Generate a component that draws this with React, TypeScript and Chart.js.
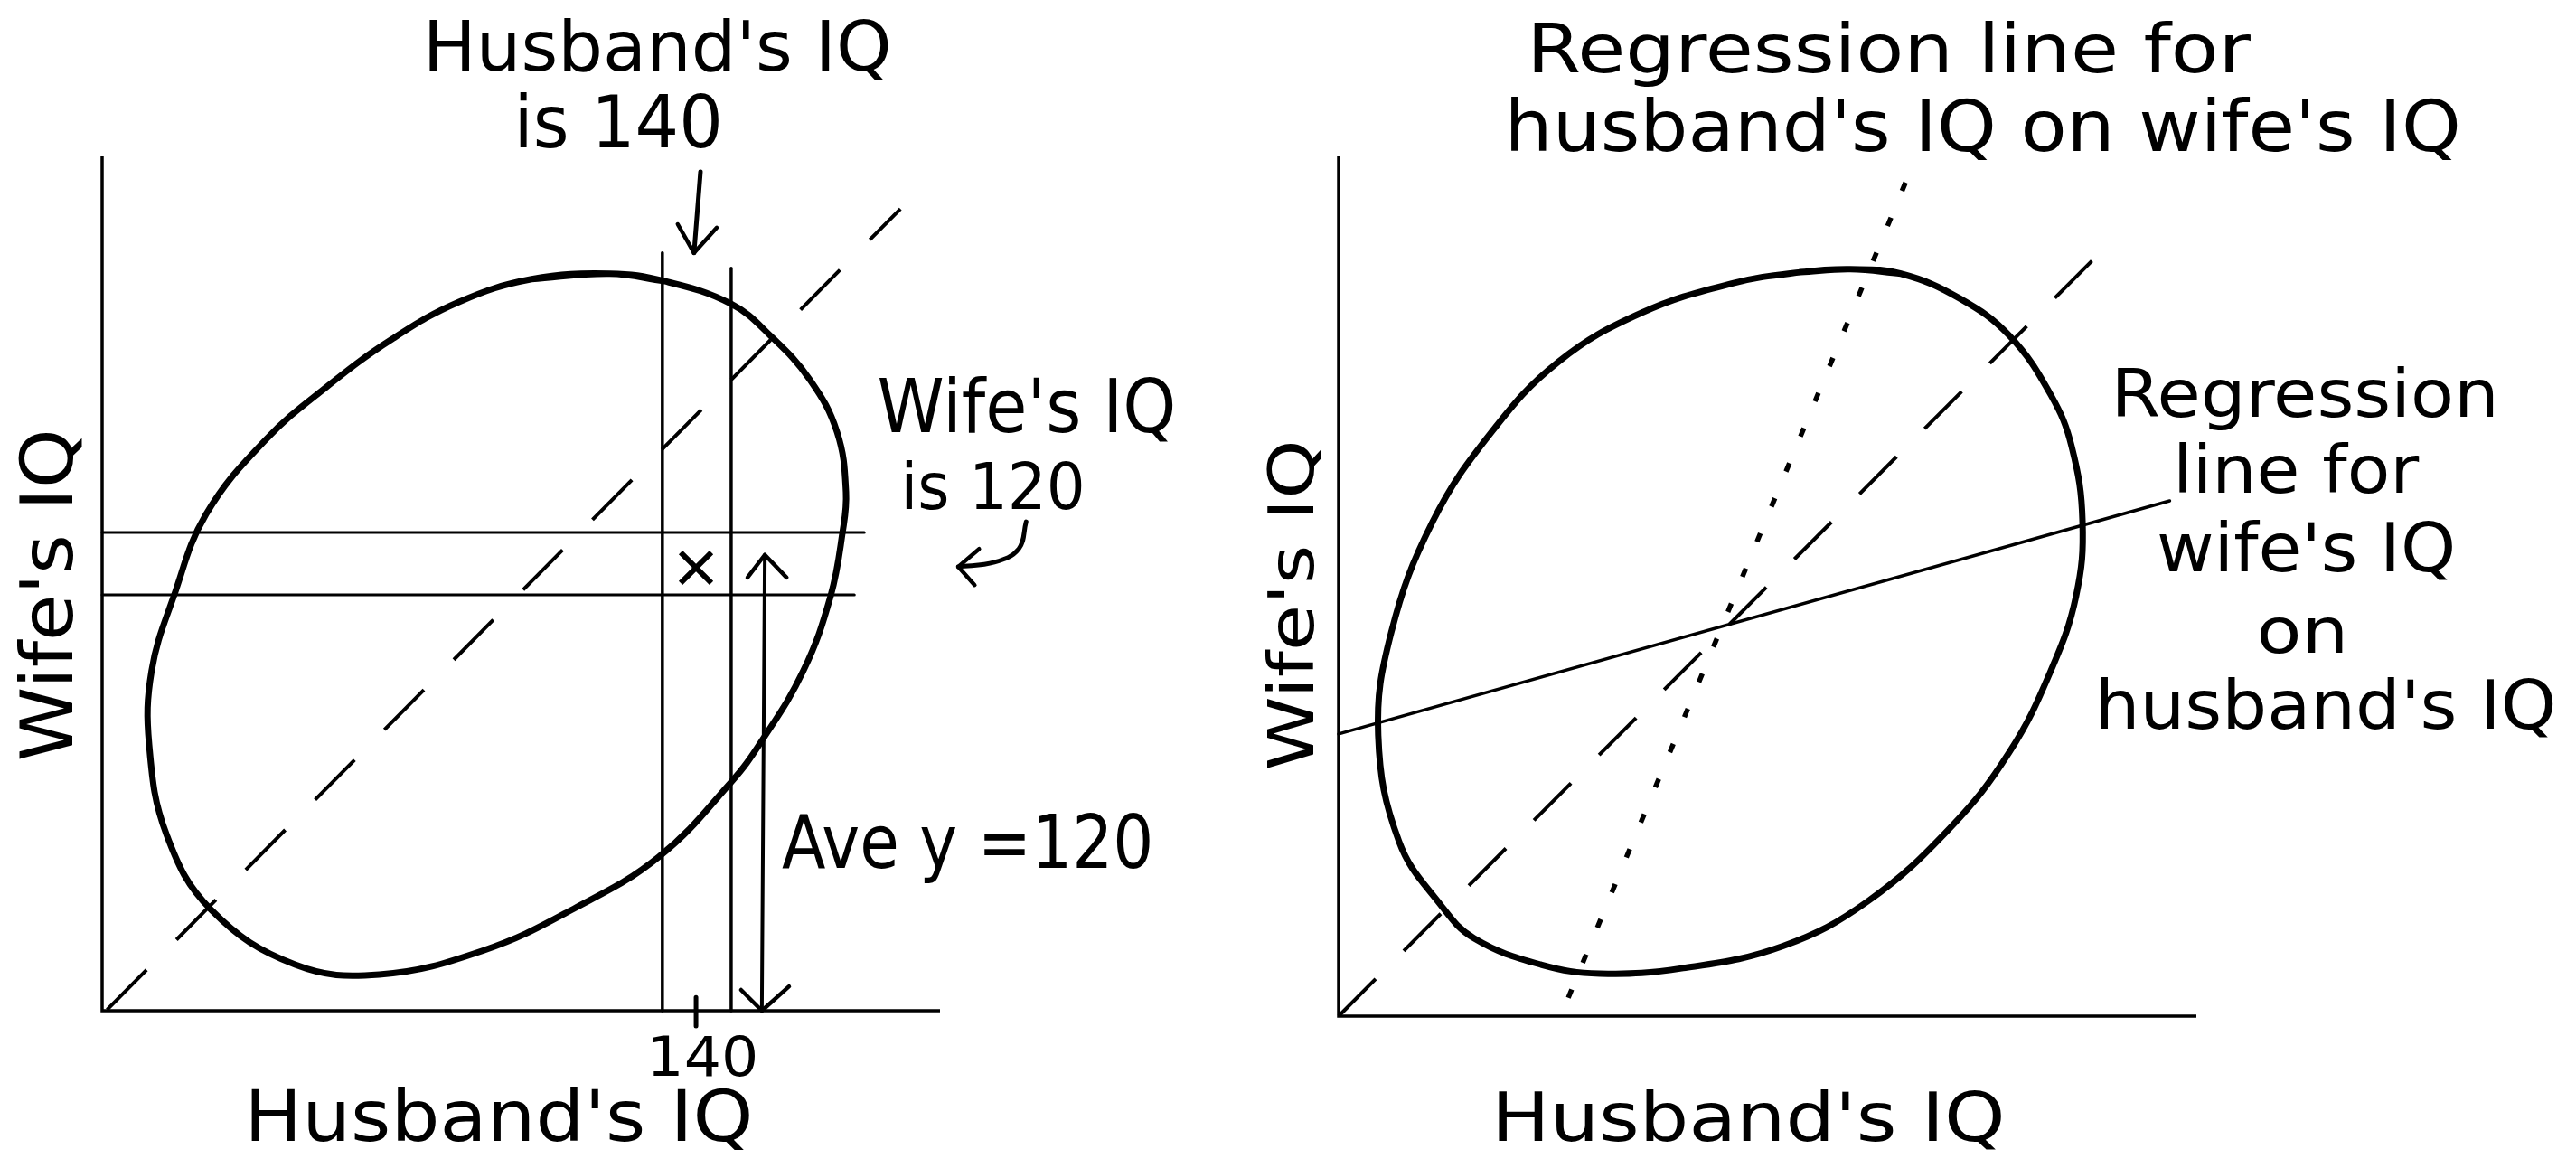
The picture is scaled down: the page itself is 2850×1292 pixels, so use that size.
import React, { useEffect, useRef } from "react";
import { Chart, registerables } from "chart.js";

Chart.register(...registerables);

// ---------- DATA (IQ-like units, both axes start at 20) ----------
// Left panel: husband's IQ (x) against wife's IQ (y)
const leftXRange = [20, 189.3];
const leftYRange = [20, 192.6];
const leftEllipseX = [122.6, 133.6, 147.1, 155.0, 163.0, 168.5, 170.3, 169.6, 167.2, 161.7, 153.2, 147.1, 132.5, 115.3, 97.1, 76.0, 59.0, 42.0, 33.0, 29.5, 30.0, 34.5, 41.0, 53.1, 65.3, 78.6, 92.1, 106.8];
const leftEllipseY = [168.9, 167.4, 162.8, 156.4, 147.5, 136.9, 124.8, 116.6, 103.8, 88.7, 74.4, 66.2, 51.1, 40.6, 32.2, 27.3, 29.3, 40.4, 55.6, 73.7, 88.7, 103.8, 120.3, 135.4, 146.0, 155.7, 163.2, 167.8];
const leftDiagonalX = [21, 181.3];
const leftDiagonalY = [20.2, 182.0];
const husbandStripX = [133.2, 147.1]; // strip around husband's IQ 140
const husbandStripTopY = [173.1, 170.0];
const wifeStripY = [116.6, 104.0]; // strip around wife's IQ 120
const wifeStripEndX = [174.0, 172.0];
const tickValues = [140];
const tickLabels = ["140"];
const crossX = [140];
const crossY = [109.5];
const aveArrowX = [153.9, 153.3];
const aveArrowY = [112.1, 20];
const downArrowX = [140.9, 139.6];
const downArrowY = [189.5, 173.1];
const curveArrowX = [206.7, 205.2, 200.3, 193.0];
const curveArrowY = [118.8, 113.3, 110.6, 109.7];

// Right panel: the two regression lines
const rightXRange = [20, 193.3];
const rightYRange = [20, 193.7];
const rightEllipseX = [123.4, 133.6, 145.5, 155.5, 163.9, 168.1, 170.3, 169.0, 163.9, 155.5, 143.7, 126.9, 109.9, 89.6, 72.8, 60.9, 47.4, 40.6, 32.2, 28.0, 30.6, 39.0, 50.9, 64.4, 81.2, 99.8, 113.3];
const rightEllipseY = [170.9, 170.0, 165.0, 157.5, 145.5, 135.1, 119.9, 104.9, 89.8, 73.3, 58.2, 43.2, 34.2, 29.7, 28.6, 30.4, 35.7, 42.5, 55.3, 76.8, 97.4, 119.9, 138.0, 152.2, 162.1, 168.1, 170.3];
const rightDiagonalX = [20, 177.4];
const rightDiagonalY = [20, 177.8];
const wifeOnHusbandX = [20, 187.9];
const wifeOnHusbandY = [77.0, 124.1];
const husbandOnWifeX = [66.4, 135.6];
const husbandOnWifeY = [23.7, 191.0];

// ---------- STYLE / LAYOUT ----------
const BLACK = "#000000";
const FONT = '"DejaVu Sans", "Noto Sans", sans-serif';

type Pt = { x: number; y: number };
type Label = { text: string; x: number; y: number; w: number; size: number; rot?: number };

const pts = (xs: number[], ys: number[]): Pt[] => xs.map((x, i) => ({ x, y: ys[i] }));
const closedLoop = (xs: number[], ys: number[]): Pt[] => {
  const p = pts(xs, ys);
  return [p[p.length - 1], ...p, p[0], p[1]];
};

function lineDs(data: Pt[], width: number, extra: any = {}) {
  return {
    type: "scatter",
    data,
    showLine: true,
    borderColor: BLACK,
    backgroundColor: BLACK,
    borderWidth: width,
    pointRadius: 0,
    pointHoverRadius: 0,
    fill: false,
    clip: false,
    tension: 0,
    borderCapStyle: "round",
    borderJoinStyle: "round",
    ...extra,
  };
}

function arrowHead(wing1: Pt, apex: Pt, wing2: Pt) {
  return lineDs([wing1, apex, wing2], 4.5);
}

const labelPlugin = (labels: Label[]) => ({
  id: "handLabels",
  afterDatasetsDraw(chart: any) {
    const { ctx } = chart;
    const xs = chart.scales.x;
    const ys = chart.scales.y;
    ctx.save();
    ctx.fillStyle = BLACK;
    ctx.textAlign = "center";
    ctx.textBaseline = "alphabetic";
    for (const l of labels) {
      ctx.font = `${l.size}px ${FONT}`;
      const m = ctx.measureText(l.text);
      const ink = m.actualBoundingBoxLeft + m.actualBoundingBoxRight;
      const sx = l.w / ink;
      const off = (m.actualBoundingBoxRight - m.actualBoundingBoxLeft) / 2;
      ctx.save();
      ctx.translate(xs.getPixelForValue(l.x), ys.getPixelForValue(l.y));
      if (l.rot) ctx.rotate(l.rot);
      ctx.scale(sx, 1);
      ctx.fillText(l.text, -off, 0);
      ctx.restore();
    }
    ctx.restore();
  },
});

function baseOptions(xr: number[], yr: number[], padding: any) {
  return {
    animation: false,
    responsive: false,
    maintainAspectRatio: false,
    devicePixelRatio: 1,
    events: [],
    layout: { padding },
    plugins: { legend: { display: false }, tooltip: { enabled: false }, title: { display: false } },
    scales: {
      x: { type: "linear", min: xr[0], max: xr[1], display: false },
      y: { type: "linear", min: yr[0], max: yr[1], display: false },
    },
  };
}

function leftConfig(): any {
  const [x0, x1] = leftXRange;
  const [y0, y1] = leftYRange;
  const t = tickValues[0];
  const datasets: any[] = [
    lineDs([{ x: x0, y: y1 }, { x: x0, y: y0 }, { x: x1, y: y0 }], 3.5, { borderJoinStyle: "miter", borderCapStyle: "butt" }),
    lineDs(closedLoop(leftEllipseX, leftEllipseY), 7, { tension: 0.4 }),
    lineDs(pts(leftDiagonalX, leftDiagonalY), 4, { borderDash: [62, 47], borderCapStyle: "butt" }),
    lineDs([{ x: husbandStripX[0], y: y0 }, { x: husbandStripX[0], y: husbandStripTopY[0] }], 3.5),
    lineDs([{ x: husbandStripX[1], y: y0 }, { x: husbandStripX[1], y: husbandStripTopY[1] }], 3.5),
    lineDs([{ x: x0, y: wifeStripY[0] }, { x: wifeStripEndX[0], y: wifeStripY[0] }], 3),
    lineDs([{ x: x0, y: wifeStripY[1] }, { x: wifeStripEndX[1], y: wifeStripY[1] }], 3),
    lineDs([{ x: t, y: 22.7 }, { x: t, y: 16.9 }], 5),
    {
      type: "scatter",
      data: pts(crossX, crossY),
      showLine: false,
      pointStyle: "crossRot",
      pointRadius: 24,
      borderWidth: 6,
      borderColor: BLACK,
      backgroundColor: BLACK,
      clip: false,
    },
    lineDs(pts(aveArrowX, aveArrowY), 4),
    arrowHead({ x: 150.4, y: 107.5 }, { x: aveArrowX[0], y: aveArrowY[0] }, { x: 158.3, y: 107.5 }),
    arrowHead({ x: 149.1, y: 24.2 }, { x: aveArrowX[1], y: aveArrowY[1] }, { x: 158.8, y: 24.9 }),
    lineDs(pts(downArrowX, downArrowY), 5),
    arrowHead({ x: 136.3, y: 178.9 }, { x: downArrowX[1], y: downArrowY[1] }, { x: 144.2, y: 178.2 }),
    lineDs(pts(curveArrowX, curveArrowY), 5, { tension: 0.4 }),
    arrowHead({ x: 197.2, y: 113.3 }, { x: curveArrowX[3], y: curveArrowY[3] }, { x: 196.3, y: 106.0 }),
  ];
  const labels: Label[] = [
    { text: "Husband's IQ", x: 132.5, y: 210.0, w: 508, size: 77 },
    { text: "is 140", x: 124.5, y: 194.4, w: 220, size: 80 },
    { text: "Wife's IQ", x: 206.6, y: 136.9, w: 325, size: 82 },
    { text: "is 120", x: 200.2, y: 121.4, w: 195, size: 72 },
    { text: "Ave y =120", x: 194.5, y: 48.9, w: 407, size: 82 },
    { text: tickLabels[0], x: 141.6, y: 6.8, w: 114, size: 60 },
    { text: "Husband's IQ", x: 100.5, y: -6.3, w: 552, size: 78 },
    { text: "Wife's IQ", x: 14.0, y: 103.8, w: 362, size: 81, rot: -Math.PI / 2 },
  ];
  return {
    type: "scatter",
    data: { datasets },
    options: baseOptions(leftXRange, leftYRange, { left: 113, right: 360, top: 173, bottom: 174 }),
    plugins: [labelPlugin(labels)],
  };
}

function rightConfig(): any {
  const [x0, x1] = rightXRange;
  const [y0, y1] = rightYRange;
  const datasets: any[] = [
    lineDs([{ x: x0, y: y1 }, { x: x0, y: y0 }, { x: x1, y: y0 }], 3.5, { borderJoinStyle: "miter", borderCapStyle: "butt" }),
    lineDs(closedLoop(rightEllipseX, rightEllipseY), 7, { tension: 0.4 }),
    lineDs(pts(rightDiagonalX, rightDiagonalY), 4, { borderDash: [58, 44], borderCapStyle: "butt" }),
    lineDs(pts(wifeOnHusbandX, wifeOnHusbandY), 3.5),
    lineDs(pts(husbandOnWifeX, husbandOnWifeY), 5.5, { borderDash: [10, 32], borderCapStyle: "butt" }),
  ];
  const labels: Label[] = [
    { text: "Regression line for", x: 131.9, y: 210.7, w: 793, size: 75 },
    { text: "husband's IQ on wife's IQ", x: 150.5, y: 194.8, w: 1047, size: 78 },
    { text: "Regression", x: 215.4, y: 141.1, w: 416, size: 73 },
    { text: "line for", x: 214.1, y: 125.8, w: 267, size: 73 },
    { text: "wife's IQ", x: 215.4, y: 109.9, w: 324, size: 75 },
    { text: "on", x: 214.5, y: 93.4, w: 92, size: 70 },
    { text: "husband's IQ", x: 219.7, y: 78.1, w: 501, size: 74 },
    { text: "Wife's IQ", x: 14.9, y: 102.9, w: 360, size: 70, rot: -Math.PI / 2 },
    { text: "Husband's IQ", x: 103.1, y: -5.2, w: 556, size: 75 },
  ];
  return {
    type: "scatter",
    data: { datasets },
    options: baseOptions(rightXRange, rightYRange, { left: 81, right: 420, top: 173, bottom: 168 }),
    plugins: [labelPlugin(labels)],
  };
}

export default function App() {
  const leftRef = useRef<HTMLCanvasElement | null>(null);
  const rightRef = useRef<HTMLCanvasElement | null>(null);

  useEffect(() => {
    const charts: Chart[] = [];
    if (leftRef.current) charts.push(new Chart(leftRef.current, leftConfig()));
    if (rightRef.current) charts.push(new Chart(rightRef.current, rightConfig()));
    return () => charts.forEach((c) => c.destroy());
  }, []);

  return (
    <div style={{ position: "fixed", left: 0, top: 0, width: 2850, height: 1292, background: "#ffffff", overflow: "hidden" }}>
      <canvas ref={leftRef} width={1400} height={1292} style={{ position: "absolute", left: 0, top: 0, width: 1400, height: 1292 }} />
      <canvas ref={rightRef} width={1450} height={1292} style={{ position: "absolute", left: 1400, top: 0, width: 1450, height: 1292 }} />
    </div>
  );
}
